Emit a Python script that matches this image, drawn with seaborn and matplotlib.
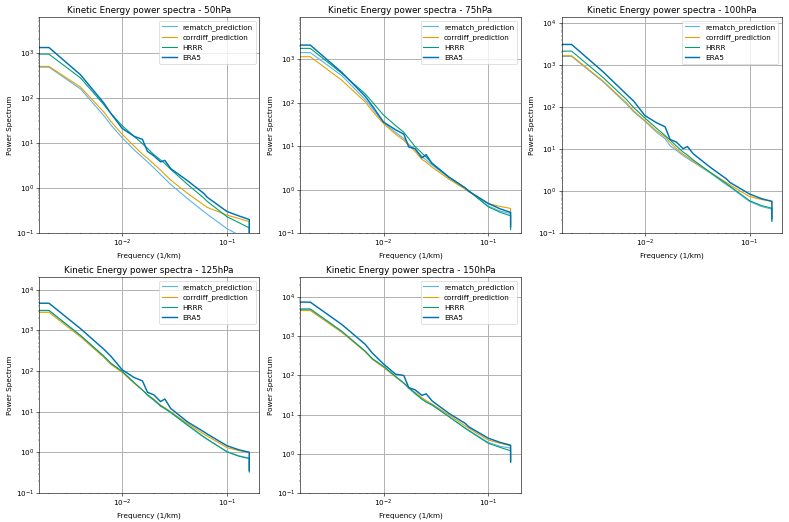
import numpy as np
import pandas as pd
import seaborn as sns
import matplotlib
matplotlib.use("Agg")
import matplotlib.pyplot as plt

# frequency grid (1/km); first point 0 gives the flat left edge, last one is the drop
freq = [0, 0.002, 0.004, 0.0067, 0.0078, 0.01, 0.013, 0.0156, 0.0174, 0.02,
        0.0232, 0.0255, 0.029, 0.042, 0.06, 0.065, 0.1, 0.13, 0.163, 0.163]

levels = ['50hPa', '75hPa', '100hPa', '125hPa', '150hPa']
series_names = ['rematch_prediction', 'corrdiff_prediction', 'HRRR', 'ERA5']

rematch_50 = [480, 480, 158, 40, 25, 13, 7, 4.8, 3.8, 2.8, 2.0, 1.6, 1.2, 0.58, 0.30, 0.26, 0.125, 0.09, 0.065, 0.01]
corrdiff_50 = [500, 500, 173, 48, 30, 15.5, 8.5, 5.6, 4.6, 3.4, 2.5, 2.0, 1.5, 0.76, 0.42, 0.37, 0.25, 0.21, 0.18, 0.01]
hrrr_50 = [935, 935, 277, 70, 45, 24, 14, 9.6, 7.6, 5.5, 4.2, 3.5, 2.6, 1.2, 0.6, 0.5, 0.23, 0.17, 0.13, 0.004]
era5_50 = [1310, 1310, 325, 76, 45, 21, 14, 12, 6.5, 5.2, 3.8, 4.1, 2.7, 1.45, 0.76, 0.62, 0.30, 0.24, 0.20, 0.01]

rematch_75 = [1430, 1430, 420, 118, 75, 35, 21, 15, 11, 8.5, 5.8, 4.8, 3.7, 1.9, 1.08, 0.93, 0.42, 0.32, 0.28, 0.13]
corrdiff_75 = [1150, 1150, 330, 104, 65, 33, 19, 13.7, 10.5, 7.6, 5.0, 4.3, 3.3, 1.75, 1.03, 0.9, 0.48, 0.41, 0.37, 0.15]
hrrr_75 = [1790, 1790, 475, 160, 105, 52, 30, 21, 15, 9.8, 7.0, 5.6, 4.1, 1.95, 1.1, 0.95, 0.40, 0.30, 0.25, 0.12]
era5_75 = [2130, 2130, 500, 140, 85, 36, 24, 19, 9.6, 8.8, 5.4, 6.4, 4.0, 1.95, 1.1, 0.92, 0.48, 0.36, 0.30, 0.14]

rematch_100 = [1610, 1610, 400, 118, 78, 46, 25, 17.7, 12, 9.3, 7.0, 6.0, 4.9, 2.7, 1.42, 1.25, 0.56, 0.43, 0.37, 0.19]
corrdiff_100 = [1670, 1670, 415, 125, 82, 48, 27, 19.5, 14.5, 10.2, 7.5, 6.5, 5.1, 2.8, 1.6, 1.4, 0.74, 0.63, 0.57, 0.3]
hrrr_100 = [2150, 2150, 505, 150, 98, 55, 31, 21, 16.5, 11.8, 8.5, 7.2, 5.5, 2.8, 1.5, 1.3, 0.59, 0.45, 0.39, 0.19]
era5_100 = [3100, 3100, 690, 200, 140, 63, 42, 34, 17, 14.7, 10.2, 11.5, 7.7, 3.7, 1.95, 1.6, 0.85, 0.66, 0.57, 0.22]

rematch_125 = [3050, 3050, 740, 228, 152, 96, 51, 34, 25, 19, 13.5, 11.8, 9.4, 4.6, 2.35, 2.05, 1.05, 0.82, 0.72, 0.33]
corrdiff_125 = [2780, 2780, 690, 215, 145, 92, 50, 34, 26, 20.5, 14.5, 12.5, 10.0, 5.1, 2.8, 2.5, 1.3, 1.1, 1.0, 0.4]
hrrr_125 = [3100, 3100, 750, 230, 155, 98, 52, 34, 26, 19.5, 14, 12, 9.6, 4.7, 2.4, 2.1, 1.02, 0.8, 0.7, 0.33]
era5_125 = [4650, 4650, 1100, 340, 230, 107, 69, 57, 30, 26, 17.7, 20.5, 12, 5.6, 3.2, 2.8, 1.45, 1.15, 1.0, 0.36]

rematch_150 = [4800, 4800, 1300, 410, 265, 165, 93, 63, 46, 34, 25, 21, 17.5, 8.9, 4.6, 4.0, 1.95, 1.55, 1.4, 0.6]
corrdiff_150 = [4550, 4550, 1260, 400, 260, 161, 92, 64, 48, 37, 27, 23, 18.7, 9.8, 5.2, 4.5, 2.25, 1.85, 1.6, 0.62]
hrrr_150 = [5000, 5000, 1340, 415, 270, 171, 95, 64, 50, 35, 25, 21, 17.8, 8.9, 4.5, 3.9, 1.85, 1.45, 1.2, 0.6]
era5_150 = [7450, 7450, 2000, 620, 375, 196, 108, 100, 49, 43, 31, 34, 22.5, 10.8, 6.0, 4.9, 2.5, 1.95, 1.66, 0.65]

spectra = {
    '50hPa': [rematch_50, corrdiff_50, hrrr_50, era5_50],
    '75hPa': [rematch_75, corrdiff_75, hrrr_75, era5_75],
    '100hPa': [rematch_100, corrdiff_100, hrrr_100, era5_100],
    '125hPa': [rematch_125, corrdiff_125, hrrr_125, era5_125],
    '150hPa': [rematch_150, corrdiff_150, hrrr_150, era5_150],
}
y_top = [6166, 9333, 13800, 20400, 32400]

colors = ['#56B4E9', '#E69F00', '#009E73', '#0072B2']
widths = [1.5, 1.5, 1.5, 2.0]

fig, axes = plt.subplots(2, 3, figsize=(15, 9.924), dpi=52.6)
plt.subplots_adjust(left=0.0494, right=0.991, bottom=0.0556, top=0.967,
                    wspace=0.186, hspace=0.204)

for i, level in enumerate(levels):
    ax = axes.flat[i]
    for name, vals, c, lw in zip(series_names, spectra[level], colors, widths):
        df = pd.DataFrame({'freq': freq, 'power': vals})
        sns.lineplot(data=df, x='freq', y='power', ax=ax, color=c, linewidth=lw,
                     label=name, sort=False, estimator=None)
    ax.set_xscale('log')
    ax.set_yscale('log')
    ax.set_ylim(0.1, y_top[i])
    ax.set_title(f'Kinetic Energy power spectra - {level}')
    ax.set_xlabel('Frequency (1/km)')
    ax.set_ylabel('Power Spectrum')
    ax.grid(True, color='#b0b0b0', linewidth=1.3)
    ax.legend(loc='upper right')

axes.flat[5].remove()

plt.savefig('out.png', dpi=52.6)
